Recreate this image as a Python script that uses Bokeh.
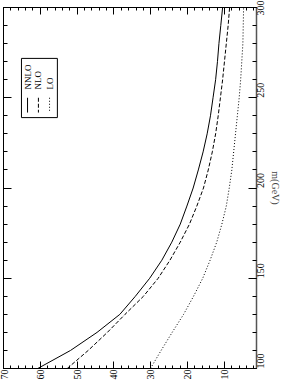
import numpy as np
from bokeh.plotting import figure
from bokeh.models import Range1d, LinearAxis, FixedTicker
from bokeh.embed import file_html
from bokeh.resources import INLINE
from bokeh.core.properties import value

# ---- data ----
mass = [100, 110, 120, 130, 140, 150, 160, 170, 180, 190, 200,
        210, 220, 230, 240, 250, 260, 270, 280, 290, 300]
nnlo = [60.7, 51.8, 44.6, 38.4, 34.2, 30.3, 27.0, 24.3, 22.0, 20.2, 18.5,
        17.1, 15.8, 14.7, 13.8, 13.1, 12.4, 11.9, 11.5, 11.0, 10.5]
nlo = [52.7, 47.0, 41.8, 37.0, 32.0, 28.0, 24.8, 22.0, 19.5, 17.5, 15.7,
       14.4, 13.3, 12.4, 11.7, 11.1, 10.5, 10.0, 9.5, 9.0, 8.6]
lo = [30.1, 27.2, 24.2, 21.1, 18.4, 15.9, 13.9, 12.1, 10.7, 9.5, 8.7,
      8.0, 7.5, 7.0, 6.5, 6.0, 5.6, 5.3, 5.0, 4.9, 4.8]
value_ticks = [10, 20, 30, 40, 50, 60, 70]
value_minor = list(range(2, 71, 2))
mass_ticks = [100, 150, 200, 250, 300]
mass_minor = list(range(100, 301, 10))
legend_names = ["NNLO", "NLO", "LO"]
legend_dashes = ["solid", "4 2", "1 2"]
mass_label = "m(GeV)"

# ---- layout ----
W, H = 289, 382
XS, XE = 70.0, 1.3
YS, YE = 100.0, 300.0
FONT = "Liberation Serif"

RL, RR, RT, RB = 0.071, 0.213, 0.141, 0.305
R_TXT, R_S0, R_S1 = 0.227, 0.25, 0.291
R_COLS = [0.095, 0.138, 0.182]


def fx(r):
    return XS + r * (XE - XS)


def fy(r):
    return YE - r * (YE - YS)


p = figure(width=W, height=H, x_range=Range1d(XS, XE), y_range=Range1d(YS, YE),
           output_backend="svg", toolbar_location=None,
           y_axis_location="right", x_axis_location="below",
           min_border_left=3, min_border_right=33,
           min_border_top=7, min_border_bottom=14)
p.grid.visible = False
p.outline_line_color = "black"
p.background_fill_color = "white"
p.border_fill_color = "white"

for ax in p.xaxis:
    ax.axis_label = None
    ax.ticker = FixedTicker(ticks=value_ticks, minor_ticks=value_minor)
    ax.major_tick_in = 7
    ax.major_tick_out = 0
    ax.minor_tick_in = 3
    ax.minor_tick_out = 0
    ax.major_label_orientation = np.pi / 2
    ax.major_label_standoff = 1
    ax.major_label_text_font = FONT
    ax.major_label_text_font_size = "10px"
    ax.major_label_text_color = "black"
    ax.axis_line_color = "black"

for ax in p.yaxis:
    ax.ticker = FixedTicker(ticks=mass_ticks, minor_ticks=mass_minor)
    ax.major_tick_in = 8
    ax.major_tick_out = 0
    ax.minor_tick_in = 4
    ax.minor_tick_out = 0
    ax.major_label_orientation = np.pi / 2
    ax.major_label_standoff = 4
    ax.major_label_text_font = FONT
    ax.major_label_text_font_size = "10px"
    ax.major_label_text_color = "black"
    ax.axis_label = mass_label
    ax.axis_label_text_font = FONT
    ax.axis_label_text_font_size = "10px"
    ax.axis_label_text_font_style = "normal"
    ax.axis_label_standoff = -1
    ax.axis_line_color = "#555555"
    ax.axis_line_width = 1.5

left = LinearAxis(ticker=FixedTicker(ticks=mass_ticks, minor_ticks=mass_minor),
                  major_tick_in=8, major_tick_out=0, minor_tick_in=4, minor_tick_out=0,
                  major_label_text_color=None, axis_line_color="black")
p.add_layout(left, "left")
top = LinearAxis(ticker=FixedTicker(ticks=value_ticks, minor_ticks=value_minor),
                 major_tick_in=7, major_tick_out=0, minor_tick_in=3, minor_tick_out=0,
                 major_label_text_color=None, axis_line_color="black")
p.add_layout(top, "above")

series = [nnlo, nlo, lo]
for vals, dash in zip(series, legend_dashes):
    p.line(x=vals, y=mass, line_color="black", line_width=1, line_dash=dash)

p.quad(left=fx(RL), right=fx(RR), top=fy(RT), bottom=fy(RB),
       fill_color="white", line_color="black", line_width=1)
for name, dash, rc in zip(legend_names, legend_dashes, R_COLS):
    p.segment(x0=fx(rc), y0=fy(R_S0), x1=fx(rc), y1=fy(R_S1),
              line_color="black", line_width=1, line_dash=dash)
    p.text(x=[fx(rc)], y=[fy(R_TXT)], text=[name], angle=np.pi / 2,
           text_font=value(FONT), text_font_size="9px", text_color="black",
           text_align="left", text_baseline="middle")

open("out.html", "w").write(file_html(p, INLINE))
